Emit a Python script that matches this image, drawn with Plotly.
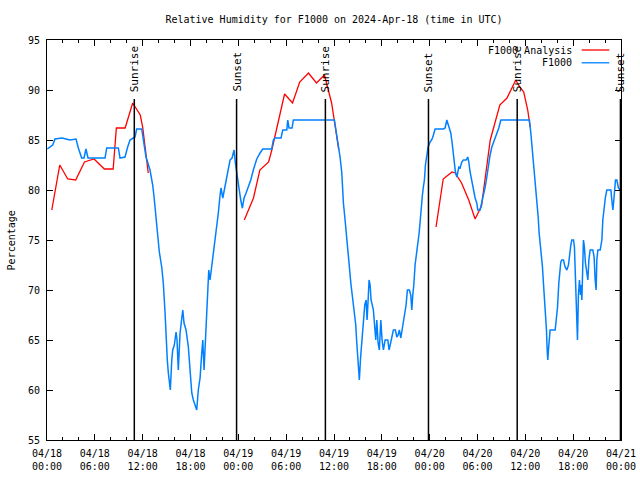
import datetime as dt
import plotly.graph_objects as go

# ---- data (hours since 2024-04-18 00:00 UTC, relative humidity %) ----
blue_hours = [0.04, 0.72, 1.00, 1.88, 2.89, 3.64, 3.93, 4.35, 4.64, 4.89, 5.14, 5.40, 7.28, 7.49, 8.95, 9.16, 9.79, 10.08, 10.41, 11.04, 11.25, 11.88, 12.08, 12.42, 12.92, 13.26, 13.43, 13.64, 13.89, 14.09, 14.39, 14.59, 14.81, 14.93, 15.09, 15.22, 15.35, 15.47, 15.65, 15.77, 15.97, 16.19, 16.31, 16.47, 16.69, 16.90, 17.03, 17.19, 17.44, 17.73, 17.94, 18.16, 18.36, 18.61, 18.78, 18.98, 19.20, 19.41, 19.54, 19.70, 19.86, 20.04, 20.20, 20.29, 20.45, 20.66, 20.87, 21.08, 21.29, 21.49, 21.71, 21.83, 22.05, 22.25, 22.46, 22.71, 22.96, 23.21, 23.46, 23.63, 23.80, 23.96, 24.13, 24.30, 24.50, 24.72, 24.97, 25.26, 25.56, 25.88, 26.31, 26.73, 27.06, 28.19, 28.39, 28.61, 29.36, 29.57, 30.08, 30.20, 30.36, 30.74, 30.90, 36.05, 36.26, 36.55, 36.76, 36.98, 37.18, 37.39, 37.52, 37.68, 37.93, 38.11, 38.27, 38.43, 38.61, 38.73, 38.86, 38.98, 39.18, 39.33, 39.48, 39.61, 39.74, 39.86, 40.03, 40.15, 40.28, 40.40, 40.53, 40.65, 40.94, 41.12, 41.24, 41.37, 41.53, 41.69, 41.87, 42.03, 42.20, 42.41, 42.75, 42.91, 43.12, 43.29, 43.45, 43.70, 43.88, 44.04, 44.20, 44.38, 44.54, 44.71, 44.92, 45.04, 45.21, 45.46, 45.63, 45.76, 45.88, 46.01, 46.17, 46.34, 46.51, 46.68, 46.80, 46.93, 47.09, 47.21, 47.34, 47.47, 47.64, 47.80, 48.06, 48.31, 48.47, 48.68, 49.72, 49.94, 50.15, 50.28, 50.48, 50.65, 50.82, 50.98, 51.11, 51.23, 51.41, 51.53, 51.66, 51.82, 52.03, 52.23, 52.57, 52.78, 52.91, 53.07, 53.29, 53.49, 53.70, 53.91, 54.04, 54.33, 54.54, 54.74, 54.96, 55.17, 55.37, 55.58, 55.80, 56.09, 56.42, 56.67, 56.93, 60.51, 60.69, 60.85, 61.02, 61.19, 61.36, 61.44, 61.61, 61.73, 61.89, 62.02, 62.15, 62.27, 62.40, 62.52, 62.65, 62.74, 62.82, 62.90, 63.02, 63.11, 63.74, 63.86, 64.03, 64.20, 64.33, 64.45, 64.58, 64.78, 64.99, 65.21, 65.41, 65.53, 65.71, 65.83, 66.04, 66.16, 66.29, 66.46, 66.54, 66.66, 66.79, 66.92, 67.00, 67.09, 67.21, 67.29, 67.41, 67.54, 67.72, 67.84, 67.97, 68.13, 68.47, 68.63, 68.76, 68.88, 68.97, 69.10, 69.39, 69.60, 69.72, 69.89, 70.05, 70.22, 70.73, 70.85, 70.98, 71.10, 71.18, 71.31, 71.48, 71.68, 71.89]
blue_values = [84.1, 84.5, 85.1, 85.2, 85.0, 85.1, 84.2, 83.2, 83.2, 84.1, 83.2, 83.2, 83.2, 84.2, 84.2, 83.2, 83.3, 84.2, 85.0, 85.3, 86.1, 86.1, 85.0, 83.3, 82.0, 80.5, 79.3, 77.7, 75.7, 73.8, 72.3, 70.7, 67.7, 65.3, 63.0, 61.7, 60.3, 60.0, 63.0, 64.0, 64.5, 65.8, 65.0, 62.0, 65.7, 67.3, 68.0, 66.7, 66.0, 64.3, 61.7, 59.7, 59.0, 58.3, 58.0, 60.0, 61.2, 63.7, 65.0, 62.0, 65.0, 67.7, 70.7, 72.0, 71.0, 72.3, 73.7, 74.8, 76.5, 77.7, 79.5, 80.2, 79.2, 80.0, 81.0, 82.0, 83.0, 83.2, 84.0, 82.7, 81.7, 81.0, 80.0, 79.0, 78.2, 79.2, 79.7, 80.3, 81.0, 82.0, 83.1, 83.7, 84.1, 84.1, 85.0, 85.2, 85.2, 86.0, 86.0, 87.0, 86.2, 86.2, 87.0, 87.0, 86.0, 84.7, 83.3, 81.7, 78.7, 77.0, 75.7, 74.0, 72.3, 70.7, 69.5, 68.5, 67.5, 66.5, 64.7, 63.2, 61.0, 63.2, 64.7, 66.2, 67.5, 68.5, 69.0, 67.0, 69.0, 71.0, 70.5, 69.0, 68.0, 66.0, 65.0, 67.0, 64.7, 64.0, 67.0, 65.0, 64.0, 65.0, 65.0, 64.0, 64.7, 65.3, 66.0, 66.0, 65.3, 65.5, 66.0, 65.2, 66.0, 66.8, 67.7, 68.5, 70.0, 70.0, 69.5, 68.0, 69.5, 70.5, 72.5, 73.5, 74.5, 75.7, 76.8, 78.5, 79.5, 80.3, 81.0, 82.5, 83.7, 84.3, 84.8, 85.1, 85.5, 86.1, 86.1, 86.2, 87.0, 86.7, 86.2, 85.7, 84.7, 83.7, 82.5, 81.8, 81.3, 81.8, 82.3, 82.2, 82.8, 83.0, 83.0, 83.3, 82.8, 81.8, 80.8, 80.0, 79.2, 78.7, 78.0, 78.0, 78.7, 79.5, 80.3, 81.3, 82.5, 83.5, 84.3, 84.9, 85.7, 86.2, 87.0, 87.0, 85.7, 84.3, 82.3, 81.0, 79.7, 78.7, 77.3, 75.7, 74.5, 73.5, 72.3, 70.7, 69.2, 67.7, 66.0, 64.0, 63.0, 64.0, 65.2, 66.0, 66.0, 66.7, 68.2, 70.7, 72.2, 72.8, 73.0, 73.0, 72.3, 72.0, 72.5, 73.5, 74.5, 75.0, 75.0, 74.3, 70.2, 66.7, 65.0, 69.5, 71.0, 69.5, 70.5, 69.0, 72.7, 75.0, 74.3, 72.7, 71.7, 71.0, 73.0, 74.0, 74.0, 73.3, 71.0, 70.0, 73.0, 74.0, 74.0, 75.0, 77.0, 78.3, 79.3, 80.0, 80.0, 79.0, 78.0, 79.0, 80.2, 81.0, 81.0, 80.2, 80.0]

red_hours = [0.6, 1.6, 2.6, 3.6, 4.7, 5.9, 7.2, 8.3, 8.7, 9.8, 10.75, 11.7, 12.0, 12.7, 18.0,
             24.75, 25.9, 26.7, 27.8, 28.2, 29.0, 29.8, 30.8, 31.7, 32.8, 33.8, 34.8, 35.7, 36.6, 42.0,
             48.8, 49.7, 50.8, 51.2, 52.0, 52.9, 53.7, 54.5, 55.6, 56.8, 57.7, 58.8, 59.3, 59.8, 60.3, 60.6]
red_values = [78.0, 82.5, 81.1, 81.0, 82.8, 83.1, 82.1, 82.1, 86.2, 86.2, 88.7, 87.5, 86.3, 81.7, None,
              77.0, 79.2, 82.0, 82.8, 84.0, 86.7, 89.6, 88.7, 90.8, 91.7, 90.7, 91.5, 88.7, 84.0, None,
              76.3, 81.1, 81.8, 81.7, 80.7, 79.0, 77.1, 78.4, 85.0, 88.5, 89.2, 91.0, 90.3, 89.8, 88.0, 86.3]

event_hours = [10.95, 23.78, 34.92, 47.85, 58.98, 71.93]
event_labels = ["Sunrise", "Sunset", "Sunrise", "Sunset", "Sunrise", "Sunset"]

BASE = dt.datetime(2024, 4, 18, 0, 0)


def to_time(h):
    return BASE + dt.timedelta(hours=h)


FONT = "DejaVu Sans Mono"

fig = go.Figure()
fig.add_trace(go.Scatter(x=[to_time(h) for h in red_hours], y=red_values, mode="lines",
                         name="F1000 Analysis", line=dict(color="#ff0000", width=1.3),
                         connectgaps=False, showlegend=False))
fig.add_trace(go.Scatter(x=[to_time(h) for h in blue_hours], y=blue_values, mode="lines",
                         name="F1000", line=dict(color="#0080ff", width=1.5),
                         showlegend=False))

shapes = []
annotations = []
for h, lab in zip(event_hours, event_labels):
    t = to_time(h)
    shapes.append(dict(type="line", xref="x", yref="y", x0=t, x1=t, y0=55, y1=89.1,
                       line=dict(color="black", width=1.5), layer="above"))
    annotations.append(dict(x=t, y=89.6, xref="x", yref="y", text=lab, textangle=-90,
                            showarrow=False, xanchor="center", yanchor="bottom",
                            font=dict(family=FONT, size=11, color="black")))

# manual legend (text left of sample line, like the reference)
legend_items = [("F1000 Analysis", "#ff0000", 0.975), ("F1000", "#0080ff", 0.943)]
for text, col, yp in legend_items:
    annotations.append(dict(x=0.918, y=yp, xref="paper", yref="paper", text=text,
                            showarrow=False, xanchor="right", yanchor="middle",
                            font=dict(family=FONT, size=10, color="black")))
    shapes.append(dict(type="line", xref="paper", yref="paper", x0=0.9315, x1=0.9796,
                       y0=yp, y1=yp, line=dict(color=col, width=1.3)))

# y-axis title placed as in the reference
annotations.append(dict(x=-0.062, y=0.5, xref="paper", yref="paper", text="Percentage",
                        textangle=-90, showarrow=False, xanchor="center", yanchor="middle",
                        font=dict(family=FONT, size=10, color="black")))

fig.update_layout(
    width=640, height=480, autosize=False,
    margin=dict(l=47, r=19, t=40, b=40, autoexpand=False),
    paper_bgcolor="white", plot_bgcolor="white",
    font=dict(family=FONT, size=10, color="black"),
    title=dict(text="Relative Humidity for F1000 on 2024-Apr-18 (time in UTC)",
               x=0.5, xref="paper", xanchor="center", y=0.96, yanchor="middle",
               font=dict(family=FONT, size=10, color="black")),
    shapes=shapes, annotations=annotations,
    showlegend=False,
)
fig.update_xaxes(type="date", range=[to_time(0), to_time(72)],
                 dtick=6 * 3600 * 1000, tick0=to_time(0), tickformat="%m/%d<br>%H:%M",
                 ticks="inside", ticklen=6, tickcolor="black", ticklabelstandoff=4,
                 minor=dict(dtick=2 * 3600 * 1000, ticks="inside", ticklen=3, tickcolor="black"),
                 showline=True, linecolor="black", linewidth=1, mirror="ticks",
                 showgrid=False, zeroline=False, tickfont=dict(family=FONT, size=10))
fig.update_yaxes(range=[55, 95], dtick=5, tick0=55,
                 ticks="inside", ticklen=6, tickcolor="black", ticklabelstandoff=4,
                 showline=True, linecolor="black", linewidth=1, mirror="ticks",
                 showgrid=False, zeroline=False, tickfont=dict(family=FONT, size=10))

fig.write_html("out.html", config={"displayModeBar": False},
               post_script="document.body.style.margin='0px';")
